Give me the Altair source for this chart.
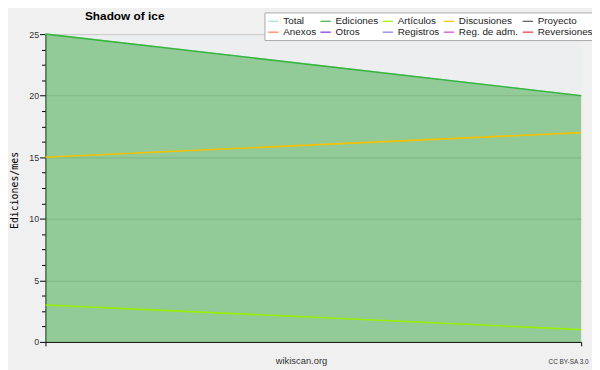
import altair as alt
import pandas as pd

meses = ["2023-01", "2023-02"]
total = [25, 20]
ediciones = [25, 20]
articulos = [3, 1]
discusiones = [15, 17]

series_names = ["Total", "Ediciones", "Artículos", "Discusiones", "Proyecto",
                "Anexos", "Otros", "Registros", "Reg. de adm.", "Reversiones"]
series_colors = ["#a0e0dc", "#3cb43c", "#99ee00", "#f2c200", "#555555",
                 "#ff7a3d", "#8a2be2", "#7b7bf0", "#cc44dd", "#e83030"]

rows = []
for name, vals in [("Total", total), ("Ediciones", ediciones),
                   ("Discusiones", discusiones), ("Artículos", articulos)]:
    for m, v in zip(meses, vals):
        rows.append({"mes": m, "serie": name, "valor": v})
lines_df = pd.DataFrame(rows)
area_df = pd.DataFrame({"mes": meses, "valor": ediciones})

major = "datum.value % 5 == 0"
y_axis = alt.Axis(
    values=[i * 1.25 for i in range(21)],
    labelExpr=f"{major} ? '' + datum.value : ''",
    tickSize={"condition": {"test": major, "value": 6}, "value": 4},
    gridOpacity={"condition": {"test": f"{major} && datum.value > 0", "value": 1}, "value": 0},
    gridColor="#c8c8c8",
    domainColor="#000000",
    tickColor="#000000",
    labelColor="#333333",
    labelFont="Liberation Sans",
    labelFontSize=9,
    labelPadding=1,
    title="Ediciones/mes",
    titleFont="DejaVu Sans Mono",
    titleFontSize=10,
    titleFontWeight="normal",
    titleColor="#000000",
    titleX=-31,
    titleY=158,
    titleAlign="center",
    titleBaseline="middle",
    titleAngle=270,
)
y_scale = alt.Scale(domain=[0, 25], nice=False)
x_scale = alt.Scale(type="point", padding=0)

area = alt.Chart(area_df).mark_area(color="#3aa83f", opacity=0.5).encode(
    x=alt.X("mes:O", scale=x_scale, sort=meses,
            axis=alt.Axis(orient="bottom", labels=False, ticks=False, domain=False, grid=False,
                          title="CC BY-SA 3.0", titleFont="Liberation Sans", titleFontSize=6.5,
                          titleFontWeight="normal", titleColor="#333333",
                          titleX=550, titleY=22, titleAlign="right",
                          titleBaseline="alphabetic")),
    y=alt.Y("valor:Q", scale=y_scale, axis=y_axis),
)

lines = alt.Chart(lines_df).mark_line(strokeWidth=1.6).encode(
    x=alt.X("mes:O", scale=x_scale, sort=meses,
            axis=alt.Axis(orient="bottom", labels=False, tickSize=4, tickColor="#000000",
                          domainColor="#000000", grid=False,
                          title="wikiscan.org", titleFont="Liberation Sans", titleFontSize=9.5,
                          titleFontWeight="normal", titleColor="#333333",
                          titleX=259, titleY=22, titleAlign="center",
                          titleBaseline="alphabetic")),
    y=alt.Y("valor:Q", scale=y_scale, axis=y_axis),
    color=alt.Color("serie:N",
                    scale=alt.Scale(domain=series_names, range=series_colors),
                    legend=alt.Legend(
                        orient="none", legendX=222, legendY=-22,
                        direction="horizontal", columns=5, title=None,
                        symbolType="stroke", symbolSize=110, symbolStrokeWidth=1.2,
                        labelFont="Liberation Sans", labelFontSize=10, labelColor="#222222",
                        labelOffset=4, columnPadding=1, rowPadding=0, padding=3,
                        fillColor="#ffffff", strokeColor="#aaaaaa",
                    )),
    order=alt.Order("serie:N"),
)

chart = alt.layer(area, lines).resolve_axis(x="independent").properties(
    width=543,
    height=312,
    autosize=alt.AutoSizeParams(type="none"),
    padding={"left": 38, "top": 24, "right": 11, "bottom": 26},
    background="#f0f0f0",
    title=alt.TitleParams("Shadow of ice", anchor="start", dx=40, dy=20, offset=0,
                          font="Liberation Sans", fontSize=12, fontWeight="bold",
                          color="#000000", baseline="alphabetic", frame="group"),
).configure_view(fill="#eceef0", strokeWidth=0)

chart.save("out.html", embed_options={"renderer": "svg", "actions": False})
